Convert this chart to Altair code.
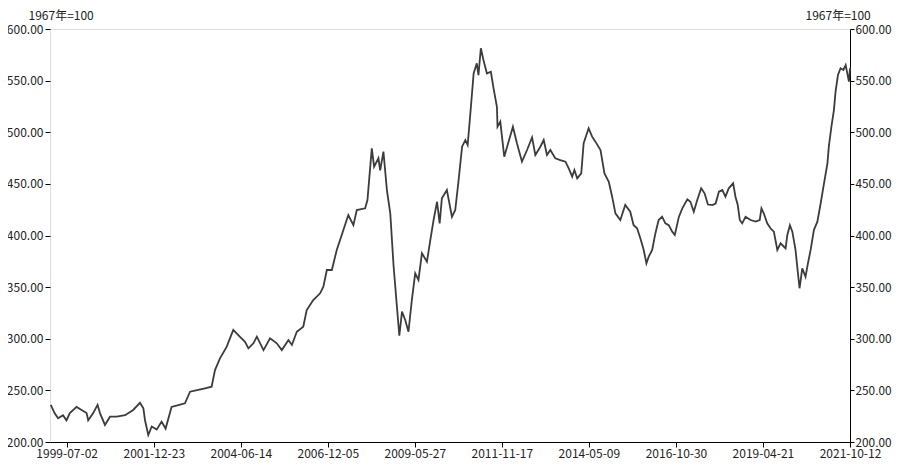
import altair as alt
import pandas as pd

dates = [
    "1999-01-18", "1999-02-28", "1999-04-04", "1999-05-25", "1999-06-30", "1999-08-04", "1999-10-13", "1999-12-04",
    "2000-01-25", "2000-02-11", "2000-04-03", "2000-05-18", "2000-06-12", "2000-08-03", "2000-09-24", "2000-12-03",
    "2001-02-28", "2001-05-23", "2001-08-02", "2001-09-06", "2001-09-23", "2001-10-27", "2001-12-02",
    "2002-01-22", "2002-03-14", "2002-04-25", "2002-06-26", "2002-09-04", "2002-11-12",
    "2003-01-04", "2003-03-29", "2003-06-08", "2003-08-16", "2003-09-20", "2003-11-11",
    "2004-01-20", "2004-03-28", "2004-05-19", "2004-07-28", "2004-09-01", "2004-10-23", "2004-11-28",
    "2005-02-05", "2005-04-14", "2005-06-23", "2005-08-14", "2005-10-22", "2005-11-27",
    "2006-01-17", "2006-03-25", "2006-04-30", "2006-07-07", "2006-09-16", "2006-10-20", "2006-11-25",
    "2007-01-16", "2007-03-08", "2007-05-15", "2007-07-06", "2007-08-28", "2007-10-02", "2007-12-28",
    "2008-01-21", "2008-03-06", "2008-03-30", "2008-05-14", "2008-06-01", "2008-07-05", "2008-08-10",
    "2008-09-14", "2008-10-18", "2008-11-23", "2008-12-17",
    "2009-01-14", "2009-02-17", "2009-03-22", "2009-04-26", "2009-05-31", "2009-07-04", "2009-08-09",
    "2009-09-30", "2009-11-04", "2009-12-08",
    "2010-01-13", "2010-02-09", "2010-03-04", "2010-04-25", "2010-06-17", "2010-07-21", "2010-08-25",
    "2010-09-30", "2010-11-03", "2010-11-27", "2010-12-25",
    "2011-01-28", "2011-03-02", "2011-03-19", "2011-04-13", "2011-05-10", "2011-06-15", "2011-07-26",
    "2011-08-23", "2011-09-27", "2011-10-03", "2011-11-01", "2011-12-12",
    "2012-01-26", "2012-03-11", "2012-04-22", "2012-06-13", "2012-08-05", "2012-09-26", "2012-10-30", "2012-12-21",
    "2013-01-25", "2013-02-28", "2013-04-04", "2013-05-25", "2013-07-16", "2013-09-08", "2013-10-12",
    "2013-11-17", "2013-12-10",
    "2014-01-08", "2014-02-19", "2014-03-16", "2014-05-07", "2014-06-12", "2014-07-16", "2014-09-07",
    "2014-10-18", "2014-12-02",
    "2015-01-06", "2015-02-09", "2015-04-01", "2015-05-22", "2015-07-13", "2015-08-17", "2015-09-22",
    "2015-10-26", "2015-11-30", "2015-12-28",
    "2016-01-21", "2016-02-26", "2016-03-30", "2016-05-03", "2016-06-08", "2016-07-12", "2016-08-16",
    "2016-09-21", "2016-10-18", "2016-11-29",
    "2017-01-04", "2017-02-25", "2017-03-29", "2017-05-03", "2017-06-08", "2017-07-19", "2017-08-23",
    "2017-09-27", "2017-11-12", "2017-12-16",
    "2018-01-19", "2018-02-24", "2018-03-28", "2018-05-01", "2018-06-16", "2018-07-10", "2018-08-03",
    "2018-08-24", "2018-09-18", "2018-10-23", "2018-12-14",
    "2019-02-05", "2019-03-19", "2019-04-06", "2019-04-30", "2019-06-05", "2019-07-09", "2019-08-13",
    "2019-09-18", "2019-10-22", "2019-11-26", "2019-12-13", "2019-12-31",
    "2020-01-27", "2020-02-21", "2020-03-25", "2020-04-12", "2020-05-06", "2020-06-03", "2020-07-07",
    "2020-08-01", "2020-08-29", "2020-10-02", "2020-11-07", "2020-12-11",
    "2021-01-15", "2021-02-20", "2021-03-06", "2021-04-04", "2021-04-28", "2021-05-15", "2021-06-09",
    "2021-07-06", "2021-08-04", "2021-08-28", "2021-10-01", "2021-10-12",
]

values = [
    236.0, 227.8, 223.0, 226.0, 221.0, 228.0, 234.0, 231.0,
    228.0, 221.0, 228.0, 236.0, 228.0, 216.5, 224.5, 224.5,
    226.0, 231.0, 238.0, 232.6, 221.0, 206.8, 215.0,
    212.0, 219.7, 213.0, 234.0, 235.8, 237.5,
    248.7, 250.4, 252.0, 253.6, 269.7, 281.0,
    292.3, 308.5, 303.6, 297.0, 290.7, 295.6, 302.0,
    289.0, 300.4, 295.6, 289.0, 298.8, 294.0,
    306.8, 311.7, 327.8, 337.5, 344.0, 350.4, 366.6,
    366.6, 386.0, 405.0, 419.8, 410.0, 424.7, 426.3,
    434.4, 484.4, 466.6, 474.8, 463.0, 481.2, 444.0,
    421.5, 371.0, 330.0, 303.0,
    326.2, 318.0, 306.8, 337.5, 363.4, 357.0, 382.8,
    374.6, 395.6, 415.0,
    432.7, 411.8, 436.0, 444.0, 418.0, 424.7, 453.7,
    486.0, 492.5, 487.6, 518.3,
    557.0, 566.8, 555.4, 581.3, 570.0, 557.0, 558.6,
    542.5, 524.7, 505.4, 510.2, 476.3,
    490.9, 505.4, 489.3, 471.5, 482.8, 495.0, 478.0, 486.0,
    492.5, 478.0, 482.8, 474.8, 473.0, 471.5, 465.0,
    457.0, 463.4,
    455.4, 460.2, 489.3, 503.8, 495.7, 490.9, 482.8,
    460.2, 452.0,
    437.6, 421.5, 415.0, 429.5, 423.0, 410.0, 407.0,
    397.3, 386.0, 373.0,
    379.5, 386.0, 402.0, 415.0, 418.2, 411.8, 410.0,
    403.7, 400.5, 418.0,
    426.3, 435.0, 432.7, 423.0, 434.4, 445.7, 440.9,
    430.0, 429.5, 431.0,
    442.4, 444.0, 437.6, 445.7, 450.5, 437.6, 429.5,
    415.0, 411.8, 418.2, 415.0,
    413.4, 415.0, 426.3, 421.5, 411.8, 407.0, 403.7,
    386.0, 392.4, 389.1, 387.6, 400.5,
    410.0, 403.7, 386.0, 369.8, 348.9, 368.2, 360.0,
    373.0, 386.0, 405.3, 413.4, 431.0,
    450.5, 470.0, 486.0, 507.0, 521.5, 539.3, 555.4,
    562.0, 560.3, 565.0, 549.0, 562.0,
]

tick_dates = [(1999, 7, 2), (2001, 12, 23), (2004, 6, 14), (2006, 12, 5), (2009, 5, 27),
              (2011, 11, 17), (2014, 5, 9), (2016, 10, 30), (2019, 4, 21), (2021, 10, 12)]
y_ticks = [200, 250, 300, 350, 400, 450, 500, 550, 600]
unit_title = "1967年=100"

df = pd.DataFrame({"date": dates, "value": values})

FONT = "Noto Sans CJK SC"
x_vals = [alt.DateTime(year=y, month=m, date=d, utc=True) for (y, m, d) in tick_dates]

x_enc = alt.X(
    "date:T",
    scale=alt.Scale(type="utc",
                    domain=[alt.DateTime(year=1999, month=1, date=10, utc=True),
                            alt.DateTime(year=2021, month=10, date=12, utc=True)]),
    axis=alt.Axis(values=x_vals, labelExpr="utcFormat(datum.value, '%Y-%m-%d')", title=None,
                  grid=False, labelOverlap=False, labelBound=False, labelFlush=False,
                  domainColor="#000", tickColor="#000", tickSize=5, labelPadding=1,
                  labelFont=FONT, labelFontSize=12, labelColor="#222"),
)

y_scale = alt.Scale(domain=[200, 600], nice=False, zero=False)

left = alt.Chart(df).mark_line(color="#3c3c3c", strokeWidth=1.8).encode(
    x=x_enc,
    y=alt.Y("value:Q", scale=y_scale,
            axis=alt.Axis(orient="left", values=y_ticks, format=".2f", grid=False,
                          domain=False, tickColor="#000", tickSize=5, labelPadding=2,
                          labelFont=FONT, labelFontSize=12, labelColor="#222",
                          title=unit_title, titleAngle=0, titleAlign="left",
                          titleBaseline="alphabetic", titleX=-22, titleY=-10,
                          titleFont=FONT, titleFontSize=12, titleFontWeight="normal",
                          titleColor="#222")),
)

right = alt.Chart(df).mark_line(opacity=0).encode(
    x=x_enc,
    y=alt.Y("value:Q", scale=y_scale,
            axis=alt.Axis(orient="right", values=y_ticks, format=".2f", grid=False,
                          domain=True, domainColor="#000", tickColor="#000", tickSize=4,
                          labelPadding=1,
                          labelFont=FONT, labelFontSize=11.8, labelColor="#222",
                          title=unit_title, titleAngle=0, titleAlign="left",
                          titleBaseline="alphabetic", titleX=-45, titleY=-10,
                          titleFont=FONT, titleFontSize=12, titleFontWeight="normal",
                          titleColor="#222")),
)

chart = alt.layer(left, right).resolve_scale(y="independent").properties(
    width=800, height=413,
    autosize=alt.AutoSizeParams(type="none"),
    padding={"left": 42, "top": 21, "right": 42, "bottom": 23},
).configure_view(stroke=None).configure(background="white")

chart.save("out.html", embed_options={"renderer": "svg", "actions": False})
